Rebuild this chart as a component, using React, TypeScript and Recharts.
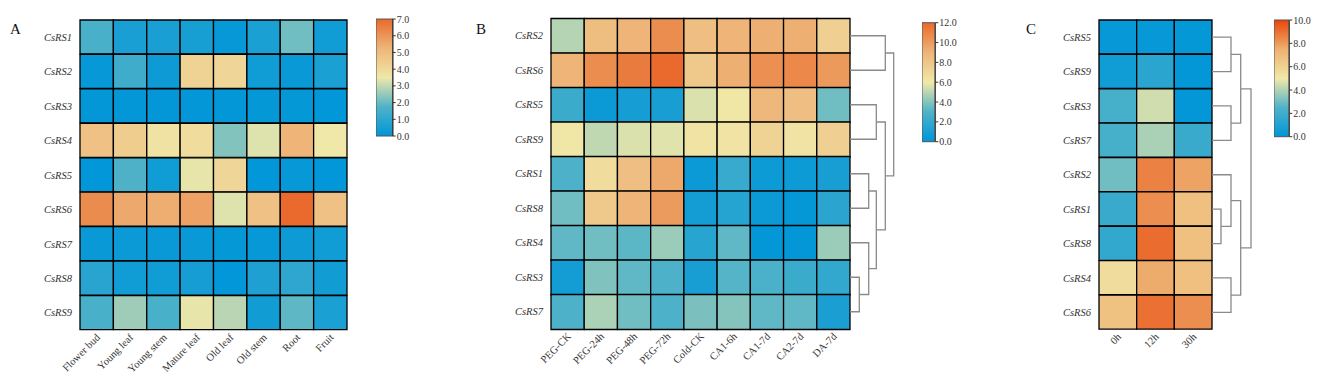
import React from 'react';
import { BarChart, Bar, Cell, XAxis, YAxis, ScatterChart, Scatter } from 'recharts';

const FONT = '"Liberation Serif", "Times New Roman", serif';

// A: tissue expression
const TISSUES = ['Flower bud', 'Young leaf', 'Young stem', 'Mature leaf', 'Old leaf', 'Old stem', 'Root', 'Fruit'];
const GENES_A = ['CsRS1', 'CsRS2', 'CsRS3', 'CsRS4', 'CsRS5', 'CsRS6', 'CsRS7', 'CsRS8', 'CsRS9'];
const VALUES_A = [
  [1.6, 0.55, 0.55, 0.5, 0.15, 0.6, 2.1, 0.35],
  [0.15, 1.4, 0.3, 4.2, 4.1, 0.35, 0.2, 0.6],
  [0.08, 0.08, 0.08, 0.08, 0.08, 0.1, 0.1, 0.05],
  [4.8, 4.4, 3.7, 3.9, 2.3, 3.3, 5.25, 3.5],
  [0.05, 1.7, 0.35, 3.4, 4.1, 0.05, 0.15, 0.05],
  [6.2, 5.5, 5.4, 5.7, 3.3, 4.8, 7.0, 4.8],
  [0.2, 0.25, 0.2, 0.2, 0.1, 0.15, 0.3, 0.35],
  [0.9, 0.35, 0.35, 0.45, 0.05, 0.65, 1.0, 0.4],
  [1.6, 2.6, 1.6, 3.4, 2.9, 0.4, 1.9, 0.6],
];
const TICKS_A = [0, 1, 2, 3, 4, 5, 6, 7];

// B: stress treatments
const STRESS = ['PEG-CK', 'PEG-24h', 'PEG-48h', 'PEG-72h', 'Cold-CK', 'CA1-6h', 'CA1-7d', 'CA2-7d', 'DA-7d'];
const GENES_B = ['CsRS2', 'CsRS6', 'CsRS5', 'CsRS9', 'CsRS1', 'CsRS8', 'CsRS4', 'CsRS3', 'CsRS7'];
const VALUES_B = [
  [4.9, 8.5, 9.0, 10.6, 8.4, 9.0, 9.2, 9.2, 7.4],
  [9.0, 10.6, 11.3, 12.0, 7.8, 9.2, 10.5, 10.8, 10.1],
  [2.2, 0.4, 0.8, 0.9, 5.6, 6.1, 8.8, 8.4, 3.6],
  [6.1, 5.1, 5.6, 5.7, 6.3, 6.3, 7.2, 6.3, 7.4],
  [2.9, 6.7, 8.4, 9.5, 0.4, 2.1, 0.5, 0.5, 0.9],
  [3.6, 7.8, 9.0, 10.0, 0.7, 1.4, 0.4, 0.2, 1.6],
  [3.3, 3.6, 3.2, 4.4, 1.5, 3.3, 0.1, 0.1, 4.4],
  [0.7, 3.9, 3.3, 2.9, 0.9, 3.1, 2.8, 2.2, 1.9],
  [2.9, 4.7, 3.6, 2.9, 3.8, 4.0, 3.3, 3.3, 1.0],
];
const TICKS_B = [0, 2, 4, 6, 8, 10, 12];
// [left, right, distance]; numbers point at earlier merges
const TREE_B: [string | number, string | number, number][] = [
  ['CsRS2', 'CsRS6', 35.3],
  ['CsRS5', 'CsRS9', 26.3],
  ['CsRS1', 'CsRS8', 18.7],
  ['CsRS3', 'CsRS7', 9.3],
  ['CsRS4', 3, 18.7],
  [2, 4, 26.3],
  [1, 5, 35.3],
  [0, 6, 43.7],
];

// C: time course
const TIMES = ['0h', '12h', '30h'];
const GENES_C = ['CsRS5', 'CsRS9', 'CsRS3', 'CsRS7', 'CsRS2', 'CsRS1', 'CsRS8', 'CsRS4', 'CsRS6'];
const VALUES_C = [
  [0.2, 0.2, 0.15],
  [0.5, 1.3, 0.1],
  [2.2, 4.5, 0.1],
  [2.2, 3.9, 1.8],
  [3.0, 8.6, 7.8],
  [1.8, 8.3, 6.8],
  [1.6, 9.1, 6.8],
  [5.5, 7.6, 6.8],
  [6.7, 9.0, 8.3],
];
const TICKS_C = [0, 2, 4, 6, 8, 10];
const TREE_C: [string | number, string | number, number][] = [
  ['CsRS5', 'CsRS9', 19],
  ['CsRS3', 'CsRS7', 19],
  [0, 1, 28.7],
  ['CsRS1', 'CsRS8', 9],
  ['CsRS2', 3, 19],
  ['CsRS4', 'CsRS6', 19],
  [4, 5, 28.7],
  [2, 6, 39],
];

type Stop = [number, number[]];
const STOPS_AB: Stop[] = [
  [0, [0, 150, 216]],
  [0.25, [80, 178, 200]],
  [0.5, [240, 232, 168]],
  [0.75, [238, 180, 120]],
  [1, [233, 106, 44]],
];
const STOPS_C: Stop[] = [
  [0, [0, 150, 216]],
  [0.25, [80, 178, 200]],
  [0.5, [240, 232, 168]],
  [0.75, [238, 176, 112]],
  [1, [232, 70, 10]],
];

const makeColor = (stops: Stop[], max: number) => (v: number) => {
  const t = Math.max(0, Math.min(1, v / max));
  for (let i = 1; i < stops.length; i++) {
    const [o1, c1] = stops[i];
    const [o0, c0] = stops[i - 1];
    if (t <= o1) {
      const f = (t - o0) / (o1 - o0);
      const c = c0.map((x, k) => Math.round(x + (c1[k] - x) * f));
      return `rgb(${c.join(',')})`;
    }
  }
  return `rgb(${stops[stops.length - 1][1].join(',')})`;
};

const H = 385;

const RowTick = ({ x, y, payload }: any) => (
  <text x={x} y={y} dy="0.35em" textAnchor="end" fontSize={10.5} fontStyle="italic" fontFamily={FONT} fill="#333">
    {payload.value}
  </text>
);

const ColTick = ({ x, y, payload, cols }: any) => {
  const tx = x + 4;
  const ty = y + 8;
  return (
    <text x={tx} y={ty} transform={`rotate(-45 ${tx} ${ty})`} textAnchor="end" fontSize={10.5} fontFamily={FONT} fill="#333">
      {cols[Math.floor(payload.value)]}
    </text>
  );
};

const Heatmap = ({ genes, cols, values, color, left, top, bottom, labelW, plotW }: any) => {
  const data = genes.map((g: string) => {
    const row: any = { gene: g };
    cols.forEach((_: string, i: number) => (row['c' + i] = 1));
    return row;
  });
  return (
    <div style={{ position: 'absolute', left, top: 0 }}>
      <BarChart
        layout="vertical"
        width={labelW + plotW + 5}
        height={H}
        data={data}
        margin={{ top, right: 5, left: 0, bottom: H - bottom - 50 }}
        barCategoryGap={0}
      >
        <XAxis
          type="number"
          domain={[0, cols.length]}
          ticks={cols.map((_: string, i: number) => i + 0.5)}
          interval={0}
          height={50}
          axisLine={false}
          tickLine={false}
          tickSize={0}
          tickMargin={0}
          tick={(p: any) => <ColTick {...p} cols={cols} />}
        />
        <YAxis
          type="category"
          dataKey="gene"
          width={labelW}
          axisLine={false}
          tickLine={false}
          tickSize={0}
          tickMargin={8}
          interval={0}
          tick={RowTick}
        />
        {cols.map((_: string, ci: number) => (
          <Bar key={ci} dataKey={'c' + ci} stackId="h" isAnimationActive={false} stroke="#000" strokeWidth={1.3}>
            {genes.map((_g: string, ri: number) => (
              <Cell key={ri} fill={color(values[ri][ci])} />
            ))}
          </Bar>
        ))}
      </BarChart>
    </div>
  );
};

const ColorBar = ({ id, stops, max, ticks, left, top, bottom, barW }: any) => (
  <div style={{ position: 'absolute', left, top: 0 }}>
    <BarChart width={barW + 30} height={H} data={[{ k: 'bar', v: max }]} margin={{ top, right: 0, left: 0, bottom: H - bottom }} barCategoryGap={0}>
      <defs>
        <linearGradient id={id} x1="0" y1="1" x2="0" y2="0">
          {stops.map(([o, c]: Stop) => (
            <stop key={o} offset={o} stopColor={`rgb(${c.join(',')})`} />
          ))}
        </linearGradient>
      </defs>
      <XAxis dataKey="k" hide />
      <YAxis
        orientation="right"
        type="number"
        domain={[0, max]}
        ticks={ticks}
        interval={0}
        width={30}
        tickSize={3}
        tickMargin={1}
        axisLine={{ stroke: '#333' }}
        tickLine={{ stroke: '#333' }}
        tick={{ fontSize: 10, fontFamily: FONT, fill: '#333' }}
        tickFormatter={(v: number) => v.toFixed(1)}
      />
      <Bar dataKey="v" fill={`url(#${id})`} stroke="#555" isAnimationActive={false} />
    </BarChart>
  </div>
);

const Dendrogram = ({ genes, tree, left, top, bottom, w }: any) => {
  const pos: { x: number; y: number }[] = [];
  const at = (n: string | number) => (typeof n === 'number' ? pos[n] : { x: 0, y: genes.indexOf(n) + 0.5 });
  const links = tree.map(([a, b, h]: [string | number, string | number, number], i: number) => {
    const p = at(a);
    const q = at(b);
    pos[i] = { x: h, y: (p.y + q.y) / 2 };
    return [
      { x: p.x, y: p.y },
      { x: h, y: p.y },
      { x: h, y: q.y },
      { x: q.x, y: q.y },
    ];
  });
  return (
    <div style={{ position: 'absolute', left, top: 0 }}>
      <ScatterChart width={w} height={H} margin={{ top, right: 0, left: 0, bottom: H - bottom }}>
        <XAxis type="number" dataKey="x" domain={[0, w]} hide />
        <YAxis type="number" dataKey="y" domain={[0, genes.length]} reversed hide />
        {links.map((pts: any[], i: number) => (
          <Scatter
            key={i}
            data={pts}
            fill="#8a8a8a"
            line={{ stroke: '#8a8a8a', strokeWidth: 1.3 }}
            shape={() => <g />}
            isAnimationActive={false}
          />
        ))}
      </ScatterChart>
    </div>
  );
};

const Letter = ({ text, left }: any) => (
  <div style={{ position: 'absolute', left, top: 22, fontFamily: FONT, fontSize: 15, lineHeight: 1, color: '#111' }}>{text}</div>
);

export default function App() {
  return (
    <div style={{ position: 'absolute', left: 0, top: 0, width: 1323, height: 385, background: '#fff', overflow: 'hidden' }}>
      <Letter text="A" left={10} />
      <Letter text="B" left={476} />
      <Letter text="C" left={1026} />

      <Heatmap genes={GENES_A} cols={TISSUES} values={VALUES_A} color={makeColor(STOPS_AB, 7)}
        left={0} top={20} bottom={330} labelW={80} plotW={267} />
      <ColorBar id="gradA" stops={STOPS_AB} max={7} ticks={TICKS_A} left={376} top={19} bottom={136} barW={16.7} />

      <Heatmap genes={GENES_B} cols={STRESS} values={VALUES_B} color={makeColor(STOPS_AB, 12)}
        left={470} top={18.5} bottom={329} labelW={81} plotW={299} />
      <Dendrogram genes={GENES_B} tree={TREE_B} left={850} top={18.5} bottom={329} w={46} />
      <ColorBar id="gradB" stops={STOPS_AB} max={12} ticks={TICKS_B} left={921.7} top={22.7} bottom={141.7} barW={13.3} />

      <Heatmap genes={GENES_C} cols={TIMES} values={VALUES_C} color={makeColor(STOPS_C, 10)}
        left={1019.3} top={20} bottom={329.5} labelW={80} plotW={113} />
      <Dendrogram genes={GENES_C} tree={TREE_C} left={1212.3} top={20} bottom={329.5} w={42} />
      <ColorBar id="gradC" stops={STOPS_C} max={10} ticks={TICKS_C} left={1274} top={20} bottom={136.7} barW={15.3} />
    </div>
  );
}
